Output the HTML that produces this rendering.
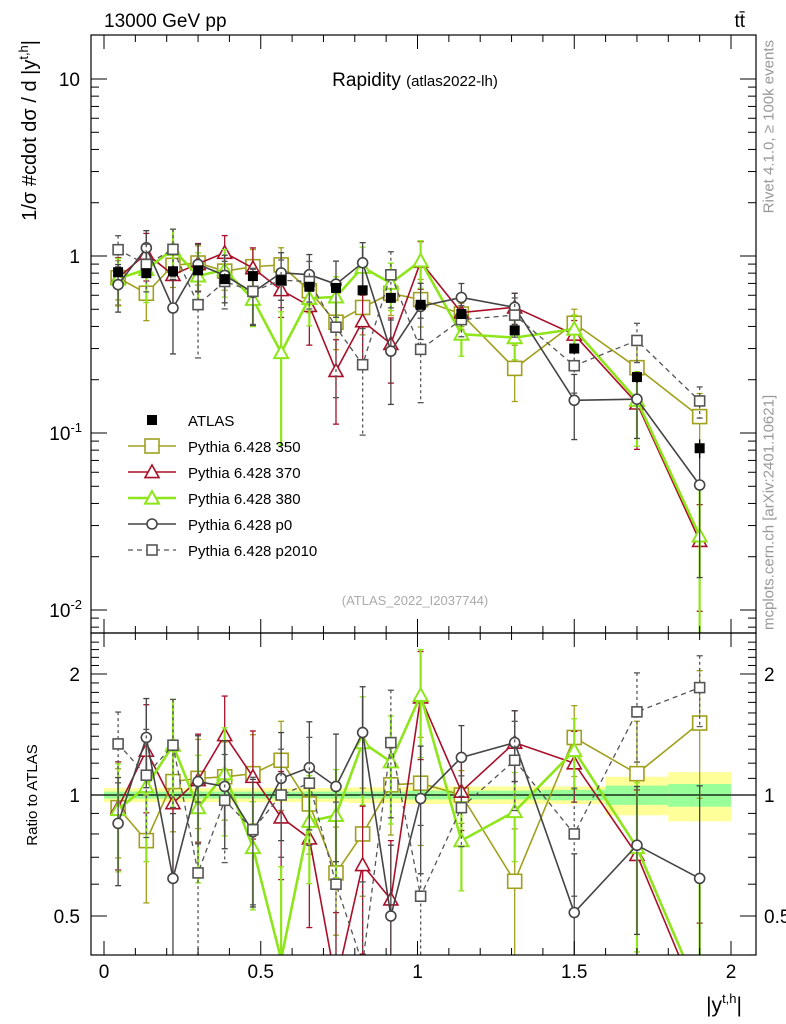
<!DOCTYPE html>
<html><head><meta charset="utf-8">
<style>
html,body{margin:0;padding:0;background:#fff;width:786px;height:1024px;overflow:hidden;}
svg{display:block;font-family:"Liberation Sans",sans-serif;}
</style></head>
<body>
<svg id="chart" width="786" height="1024" viewBox="0 0 786 1024" xmlns="http://www.w3.org/2000/svg">
<defs>
<clipPath id="clipMain"><rect x="91" y="35" width="665" height="598"/></clipPath>
<clipPath id="clipRatio"><rect x="91" y="633" width="665" height="322"/></clipPath>
</defs>
<g id="bands" clip-path="url(#clipRatio)"></g>
<g id="marks"></g>
<g id="axes"></g>
<text x="104" y="27" font-size="19">13000 GeV pp</text>
<text x="745" y="27" font-size="19" text-anchor="end">tt̄</text>
<text x="415" y="86" font-size="19" text-anchor="middle">Rapidity <tspan font-size="15">(atlas2022-lh)</tspan></text>
<text x="415" y="605" font-size="13" fill="#aaa" text-anchor="middle">(ATLAS_2022_I2037744)</text>
<text transform="translate(762,40) rotate(-90)" font-size="15" fill="#999" text-anchor="end" dy="0.75em">Rivet 4.1.0, ≥ 100k events</text>
<text transform="translate(762,630) rotate(-90)" font-size="15" fill="#999" dy="0.75em">mcplots.cern.ch [arXiv:2401.10621]</text>
<text transform="translate(36,40) rotate(-90)" font-size="20" text-anchor="end">1/σ #cdot dσ / d |y<tspan font-size="13" dy="-8">t,h</tspan><tspan dy="8">|</tspan></text>
<text transform="translate(37,795) rotate(-90)" font-size="15" text-anchor="middle">Ratio to ATLAS</text>
<text x="742" y="1012" font-size="21" text-anchor="end">|y<tspan font-size="13" dy="-9">t,h</tspan><tspan dy="9">|</tspan></text>
<g id="legend"></g>
</svg>
<script>
const edges = [0,0.09,0.18,0.26,0.34,0.43,0.52,0.61,0.70,0.78,0.87,0.96,1.06,1.22,1.40,1.60,1.80,2.00];
const atlas = [0.81,0.80,0.82,0.83,0.74,0.77,0.73,0.67,0.66,0.64,0.58,0.53,0.47,0.38,0.30,0.207,0.082];
const atlasErr = [0.03,0.03,0.03,0.03,0.03,0.03,0.03,0.03,0.03,0.03,0.03,0.03,0.02,0.02,0.02,0.015,0.01];
const bandGreen = [0.02,0.02,0.02,0.02,0.02,0.02,0.02,0.02,0.02,0.02,0.02,0.025,0.025,0.025,0.03,0.055,0.065];
const bandYellow = [0.04,0.04,0.04,0.04,0.04,0.04,0.04,0.04,0.04,0.045,0.045,0.05,0.05,0.05,0.05,0.11,0.14];
const r350 = [0.93,0.77,1.08,1.10,1.11,1.13,1.22,0.95,0.64,0.80,1.06,1.07,1.00,0.61,1.39,1.13,1.51];
const r370 = [0.93,1.29,0.955,1.09,1.41,1.11,0.88,0.78,0.34,0.67,0.55,1.75,1.02,1.35,1.20,0.71,0.30];
const r380 = [0.92,1.05,1.33,0.93,1.13,0.74,0.39,0.86,0.89,1.35,1.21,1.77,0.77,0.91,1.29,0.74,0.32];
const rp0 = [0.85,1.39,0.62,1.08,1.05,0.81,1.10,1.17,1.05,1.43,0.50,0.98,1.24,1.35,0.51,0.75,0.62];
const rp2010 = [1.34,1.12,1.33,0.64,0.97,0.82,1.00,1.07,0.60,0.38,1.35,0.56,0.93,1.22,0.80,1.61,1.85];
const e350 = [0.25,0.3,0.25,0.25,0.22,0.25,0.25,0.25,0.3,0.3,0.25,0.3,0.15,0.35,0.2,0.35,0.35];
const e370 = [0.3,0.3,0.35,0.3,0.25,0.3,0.3,0.4,0.5,0.4,0.4,0.3,0.2,0.2,0.2,0.45,0.6];
const e380 = [0.3,0.35,0.3,0.35,0.3,0.3,0.7,0.3,0.3,0.3,0.3,0.3,0.25,0.25,0.2,0.45,0.9];
const ep0 = [0.3,0.25,0.45,0.3,0.3,0.35,0.3,0.3,0.35,0.3,0.5,0.35,0.2,0.2,0.4,0.4,0.7];
const ep2010 = [0.2,0.3,0.3,0.5,0.3,0.35,0.3,0.3,0.6,0.6,0.35,0.5,0.2,0.25,0.3,0.25,0.2];
const xTicks = [0,0.5,1,1.5,2];
const xTickLabels = ["0","0.5","1","1.5","2"];
const ratioTicks = [0.5,1,2];
const ratioTickLabels = ["0.5","1","2"];
const seriesNames = ["Pythia 6.428 350","Pythia 6.428 370","Pythia 6.428 380","Pythia 6.428 p0","Pythia 6.428 p2010"];

const NS="http://www.w3.org/2000/svg";
const X0=91,X1=756,MT=35,MB=633,RB=955;
const xs=v=>104+v*313.5;
const ym=v=>256-177*Math.log10(v);
const yr=v=>795-402*Math.log10(v);
function mk(tag,attrs,parent){const e=document.createElementNS(NS,tag);for(const k in attrs)e.setAttribute(k,attrs[k]);parent.appendChild(e);return e;}
const bands=document.getElementById('bands');
const marks=document.getElementById('marks');
const axes=document.getElementById('axes');
const centers=edges.slice(0,-1).map((e,i)=>(e+edges[i+1])/2);

for(let i=0;i<atlas.length;i++){
  const a=xs(edges[i]),b=xs(edges[i+1]);
  const y1=mk('rect',{x:a,y:yr(1+bandYellow[i]),width:b-a,height:yr(1-bandYellow[i])-yr(1+bandYellow[i]),fill:'#ffff99'},bands);
  
  
  const g1=mk('rect',{x:a,y:yr(1+bandGreen[i]),width:b-a,height:yr(1-bandGreen[i])-yr(1+bandGreen[i]),fill:'#99ff99'},bands);
  
  
}
mk('line',{x1:X0,x2:X1,y1:yr(1),y2:yr(1),stroke:'#000','stroke-width':1.3},bands);

const styles=[
 {c:'#a0a01e',w:1.6,m:'sq',s:7,d:null},
 {c:'#a8102a',w:1.6,m:'tri',s:7,d:null},
 {c:'#8ee51a',w:2.6,m:'tri',s:7,d:null},
 {c:'#444444',w:1.6,m:'circ',s:5,d:null},
 {c:'#555555',w:1.3,m:'sq',s:5,d:'5,4'}
];
const ratios=[r350,r370,r380,rp0,rp2010];
const errs=[e350,e370,e380,ep0,ep2010];

function marker(g,type,x,y,s,c,w){
  if(type==='sq') return mk('rect',{x:x-s,y:y-s,width:2*s,height:2*s,fill:'#fff',stroke:c,'stroke-width':w>2?2:1.6},g);
  if(type==='tri') return mk('polygon',{points:`${x},${y-s} ${x-s},${y+s*0.8} ${x+s},${y+s*0.8}`,fill:'#fff',stroke:c,'stroke-width':w>2?2:1.6},g);
  return mk('circle',{cx:x,cy:y,r:s,fill:'#fff',stroke:c,'stroke-width':1.6},g);
}

function drawPanel(clip,yf,vals,errsRel,k){
  const st=styles[k];
  const g=mk('g',{'clip-path':`url(#${clip})`},marks);
  
  
  for(let i=0;i<vals.length;i++){
    const x=xs(centers[i]);
    const hi=vals[i]*(1+errsRel[i]),lo=Math.max(vals[i]*(1-errsRel[i]),1e-4);
    const attrs={x1:x,x2:x,y1:yf(hi),y2:yf(lo),stroke:st.c,'stroke-width':st.w>2?2.2:1.3};
    if(st.d)attrs['stroke-dasharray']='3,3';
    mk('line',attrs,g);
    mk('line',{x1:x-3,x2:x+3,y1:yf(hi),y2:yf(hi),stroke:st.c,'stroke-width':1.3},g);
    mk('line',{x1:x-3,x2:x+3,y1:yf(lo),y2:yf(lo),stroke:st.c,'stroke-width':1.3},g);
  }
  const pts=vals.map((v,i)=>xs(centers[i])+','+yf(v)).join(' ');
  const pl={points:pts,fill:'none',stroke:st.c,'stroke-width':st.w};
  if(st.d)pl['stroke-dasharray']=st.d;
  mk('polyline',pl,g);
  vals.forEach((v,i)=>marker(g,st.m,xs(centers[i]),yf(v),st.s,st.c,st.w));
}
for(let k=0;k<5;k++){
  const absVals=ratios[k].map((r,i)=>r*atlas[i]);
  drawPanel('clipMain',ym,absVals,errs[k],k);
  drawPanel('clipRatio',yr,ratios[k],errs[k],k);
}
const ga=mk('g',{'clip-path':'url(#clipMain)'},marks);


atlas.forEach((v,i)=>{
  const x=xs(centers[i]);
  mk('line',{x1:x,x2:x,y1:ym(v+atlasErr[i]),y2:ym(v-atlasErr[i]),stroke:'#000','stroke-width':1.3},ga);
  mk('rect',{x:x-5,y:ym(v)-5,width:10,height:10,fill:'#000'},ga);
});

mk('rect',{x:X0,y:MT,width:X1-X0,height:MB-MT,fill:'none',stroke:'#000','stroke-width':1.2},axes);
mk('rect',{x:X0,y:MB,width:X1-X0,height:RB-MB,fill:'none',stroke:'#000','stroke-width':1.2},axes);
for(let v=0;v<=2.05;v+=0.1){
  const x=xs(+v.toFixed(2));const major=Math.abs(v*2-Math.round(v*2))<1e-6;
  const L=major?14:7;
  [[MB,-1],[MT,1],[RB,-1],[MB,1]].forEach(([y,d])=>mk('line',{x1:x,x2:x,y1:y,y2:y+d*L,stroke:'#000','stroke-width':1},axes));
}
xTicks.forEach((v,i)=>{const t=mk('text',{x:xs(v),y:978,'font-size':19,'text-anchor':'middle'},axes);t.textContent=xTickLabels[i];

});
for(let dec=-3;dec<=1;dec++){
  for(let m=1;m<10;m++){
    const v=m*Math.pow(10,dec);const y=ym(v);
    if(y<MT||y>MB)continue;
    const L=m===1?16:8;
    mk('line',{x1:X0,x2:X0+L,y1:y,y2:y,stroke:'#000'},axes);
    mk('line',{x1:X1,x2:X1-L,y1:y,y2:y,stroke:'#000'},axes);
  }
}
[[10,'10'],[1,'1']].forEach(([v,s])=>{const t=mk('text',{x:80,y:ym(v)+7,'font-size':19,'text-anchor':'end'},axes);t.textContent=s;

});
[[0.1,'-1'],[0.01,'-2']].forEach(([v,e])=>{const t=mk('text',{x:82,y:ym(v)+7,'font-size':19,'text-anchor':'end'},axes);
t.innerHTML='10<tspan font-size="13" dy="-8">'+e+'</tspan>';

});
for(let v=0.4;v<=2.5;v+=0.1){
  const vv=+v.toFixed(1);const y=yr(vv);if(y<MB||y>RB)continue;
  const major=ratioTicks.includes(vv);const L=major?16:8;
  mk('line',{x1:X0,x2:X0+L,y1:y,y2:y,stroke:'#000'},axes);
  mk('line',{x1:X1,x2:X1-L,y1:y,y2:y,stroke:'#000'},axes);
}
ratioTicks.forEach((v,i)=>{
  const t=mk('text',{x:80,y:yr(v)+7,'font-size':19,'text-anchor':'end'},axes);t.textContent=ratioTickLabels[i];
  
  
  const t2=mk('text',{x:764,y:yr(v)+7,'font-size':19},axes);t2.textContent=ratioTickLabels[i];
  
  
});
const lg=document.getElementById('legend');
let ly=420;
mk('rect',{x:147,y:ly-5,width:10,height:10,fill:'#000'},lg);
let lt=mk('text',{x:188,y:ly+6,'font-size':15},lg);lt.textContent='ATLAS';


seriesNames.forEach((n,k)=>{
  const y=446+k*26;const st=styles[k];
  const a={x1:128,x2:176,y1:y,y2:y,stroke:st.c,'stroke-width':st.w};if(st.d)a['stroke-dasharray']=st.d;
  mk('line',a,lg);
  marker(lg,st.m,152,y,st.s,st.c,st.w);
  const t=mk('text',{x:188,y:y+6,'font-size':15},lg);t.textContent=n;
  
  
});
</script>
</body></html>
